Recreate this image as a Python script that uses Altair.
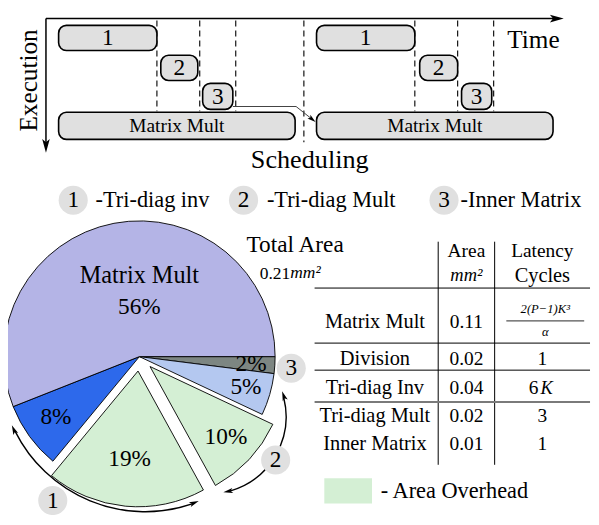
import math
import altair as alt
import pandas as pd

# ---------------- chart values ----------------
# schedule: start / end of each task on the time axis, two iterations
sched_tasks = ["1", "2", "3", "Matrix Mult"]
sched_iter1_start = [52, 157, 200, 52]
sched_iter1_end = [153, 195, 231, 295]
sched_iter2_start = [317, 423, 466, 317]
sched_iter2_end = [418, 462, 497, 560]
phase_marks = [153, 197, 234, 418, 462, 499]
iteration_marks = [304]

legend_ids = ["1", "2", "3"]
legend_names = ["-Tri-diag inv", "-Tri-diag Mult", "-Inner Matrix"]

# pie, clockwise starting at 3 o'clock
pie_share = [2, 5, 10, 19, 8, 56]
pie_labels = ["2%", "5%", "10%", "19%", "8%", "56%"]
pie_colors = ["#7d8682", "#b4c8f0", "#d4efd4", "#d4efd4", "#2d69eb", "#b4b4e6"]
pie_overhead = [0, 0, 1, 1, 0, 0]
pie_group_ids = ["1", "2", "3"]

total_area_title = "Total Area"
total_area_value = "0.21"
table_head = ["Area", "Latency"]
table_units = ["mm²", "Cycles"]
table_rows = ["Matrix Mult", "Division", "Tri-diag Inv", "Tri-diag Mult", "Inner Matrix"]
table_area = ["0.11", "0.02", "0.04", "0.02", "0.01"]
table_latency = ["", "1", "6", "3", "1"]
table_latency_var = ["", "", "K", "", ""]
latency_fraction = ["2(P−1)K³", "α"]
overhead_label = "- Area Overhead"

# ---------------- layout ----------------
W, H = 583, 507
UX, UY = 599.0, 525.0
SX, SY = W / UX, H / UY
S = (SX + SY) / 2
FONT = "Liberation Serif"

xs = alt.Scale(domain=[0, UX], nice=False, zero=False)
ys = alt.Scale(domain=[0, UY], nice=False, zero=False, reverse=True)


def X(f):
    return alt.X(f + ":Q", scale=xs, axis=None)


def Y(f):
    return alt.Y(f + ":Q", scale=ys, axis=None)


def text_layer(rows, size, align="center", italic=False, angle=None, color="black"):
    df = pd.DataFrame(rows, columns=["x", "y", "t"])
    kw = dict(font=FONT, fontSize=round(size * S, 2), align=align,
              baseline="middle", color=color)
    if italic:
        kw["fontStyle"] = "italic"
    if angle is not None:
        kw["angle"] = angle
    return alt.Chart(df).mark_text(**kw).encode(x=X("x"), y=Y("y"), text="t:N")


def rule_layer(rows, color="black", width=1.0, dash=None):
    df = pd.DataFrame(rows, columns=["x", "y", "x2", "y2"])
    kw = dict(color=color, strokeWidth=width)
    if dash:
        kw["strokeDash"] = dash
    return alt.Chart(df).mark_rule(**kw).encode(
        x=X("x"), y=Y("y"), x2=alt.X2("x2"), y2=alt.Y2("y2"))


HEAD = "M0,0 L0.6,2.2 L0,1.7 L-0.6,2.2 Z"


def head_layer(rows, k):
    df = pd.DataFrame(rows, columns=["x", "y", "a"])
    df["a"] = df["a"] % 360
    return alt.Chart(df).mark_point(
        shape=HEAD, filled=True, color="black", opacity=1,
        size=(2 * k * S) ** 2, strokeWidth=0
    ).encode(x=X("x"), y=Y("y"), angle=alt.Angle("a:Q", scale=None))


def badge_layer(centers, labels, r=15, size=24):
    df = pd.DataFrame({"x": [c[0] for c in centers], "y": [c[1] for c in centers], "t": labels})
    circ = alt.Chart(df).mark_point(
        shape="circle", filled=True, color="#e0e0e0", opacity=1,
        size=(2 * r * S) ** 2, strokeWidth=0
    ).encode(x=X("x"), y=Y("y"))
    return [circ, text_layer(list(zip(df.x, df.y, df.t)), size)]


layers = []

# ---------------- scheduling diagram ----------------
LANES = [(18, 44), (49, 75), (78, 105), (108, 136)]
AX_X, AX_Y = 39, 11
layers.append(rule_layer([(AX_X, AX_Y, 560, AX_Y), (AX_X, AX_Y, AX_X, 140)], width=1.5))
layers.append(head_layer([(571, AX_Y, 90), (AX_X, 150, 180)], 6.5))

dash_rows = [(x, 13, x, 107) for x in phase_marks] + [(x, 13, x, 139) for x in iteration_marks]
layers.append(rule_layer(dash_rows, width=1.1, dash=[6, 4]))

box_rows = []
for starts, ends in [(sched_iter1_start, sched_iter1_end), (sched_iter2_start, sched_iter2_end)]:
    for i, name in enumerate(sched_tasks):
        y0, y1 = LANES[i]
        box_rows.append(dict(x0=starts[i], x1=ends[i], y0=y0, y1=y1, t=name,
                             cx=(starts[i] + ends[i]) / 2, cy=(y0 + y1) / 2))
boxes = pd.DataFrame(box_rows)
layers.append(alt.Chart(boxes).mark_rect(
    cornerRadius=8 * S, fill="#e0e0e0", stroke="black", strokeWidth=1.6
).encode(x=X("x0"), x2=alt.X2("x1"), y=Y("y0"), y2=alt.Y2("y1")))
digits = boxes[boxes.t != "Matrix Mult"]
mm = boxes[boxes.t == "Matrix Mult"]
layers.append(text_layer(list(zip(digits.cx, digits.cy + 0.5, digits.t)), 24))
layers.append(text_layer(list(zip(mm.cx, mm.cy, mm.t)), 20))

# hand-off arrow from task 3 to the next Matrix Mult
path_pts = [(sched_iter1_end[2], 102), (296, 102), (313, 115.6)]
tip = (316, 118)
dfp = pd.DataFrame({"x": [p[0] for p in path_pts], "y": [p[1] for p in path_pts],
                    "o": list(range(len(path_pts)))})
layers.append(alt.Chart(dfp).mark_line(color="#444444", strokeWidth=1).encode(
    x=X("x"), y=Y("y"), order=alt.Order("o:Q")))
ang = math.degrees(math.atan2(tip[0] - 296, -(tip[1] - 102)))
layers.append(head_layer([(tip[0], tip[1], ang)], 4.0))

layers.append(text_layer([(22, 75, "Execution")], 26, angle=270))
layers.append(text_layer([(513, 33, "Time")], 26, align="left"))
layers.append(text_layer([(310, 157, "Scheduling")], 27))

# ---------------- legend row ----------------
leg_cx = [67, 242, 448]
leg_tx = [90, 266, 465]
LEG_Y = 199
layers += badge_layer([(x, LEG_Y) for x in leg_cx], legend_ids, r=15, size=24)
layers.append(text_layer([(x, LEG_Y, t) for x, t in zip(leg_tx, legend_names)], 23, align="left"))

# ---------------- pie ----------------
PC = (135, 361)
PR = 140
EXPLODE = 15
label_r = [115, 114, 107, 92, 106, 51]
label_dir = [None, None, None, None, None, 0.0]
rows = []
cum = 0
for share, lab, col, ov, lr, ld in zip(pie_share, pie_labels, pie_colors, pie_overhead,
                                       label_r, label_dir):
    t0 = 90 + cum * 3.6
    t1 = t0 + share * 3.6
    cum += share
    mid = math.radians((t0 + t1) / 2)
    off = EXPLODE if ov else 0
    cx = PC[0] + off * math.sin(mid)
    cy = PC[1] - off * math.cos(mid)
    la = mid if ld is None else math.radians(ld)
    rows.append(dict(t0=math.radians(t0), t1=math.radians(t1), cx=cx, cy=cy, col=col,
                     lab=lab, lx=cx + lr * math.sin(la), ly=cy - lr * math.cos(la)))
pie = pd.DataFrame(rows)
layers.append(alt.Chart(pie).mark_arc(radius=PR * S, stroke="black", strokeWidth=0.9).encode(
    x=X("cx"), y=Y("cy"),
    theta=alt.Theta("t0:Q", scale=None, stack=False), theta2=alt.Theta2("t1"),
    color=alt.Color("col:N", scale=None)))
layers.append(text_layer(list(zip(pie.lx, pie.ly, pie.lab)), 24))
layers.append(text_layer([(PC[0], PC[1] - 84, "Matrix Mult")], 25))

# curved group arrows around the pie: (cx, cy, r, theta_start, theta_end)
ARCS = [(141, 371, 150, 158.5, 246.0), (206, 423, 80, 71.0, 169.0)]
heads = []
for cx, cy, r, ts, te in ARCS:
    trim = math.degrees(7.0 / r)
    dfa = pd.DataFrame({"cx": [cx], "cy": [cy],
                        "t0": [math.radians(ts + trim)], "t1": [math.radians(te - trim)]})
    layers.append(alt.Chart(dfa).mark_arc(
        radius=r * S, radius2=r * S, fillOpacity=0, stroke="black", strokeWidth=1.4
    ).encode(x=X("cx"), y=Y("cy"),
             theta=alt.Theta("t0:Q", scale=None, stack=False), theta2=alt.Theta2("t1")))
    for th, a in [(ts, ts - 90), (te, te + 90)]:
        rad = math.radians(th)
        heads.append((cx + r * math.sin(rad), cy - r * math.cos(rad), a))
layers.append(head_layer(heads, 4.5))
layers += badge_layer([(46, 510), (275, 468), (291, 373)], pie_group_ids, r=15, size=24)

# ---------------- table ----------------
layers.append(text_layer([(295, 245, total_area_title)], 24))
layers.append(text_layer([(290, 275, total_area_value)], 18, align="right"))
layers.append(text_layer([(290, 274, "mm²")], 18, align="left", italic=True))

COL_X = [377, 471, 549]
ROW_Y = [325, 363, 393, 422, 451]
layers.append(text_layer([(COL_X[1], 252, table_head[0]), (COL_X[2], 252, table_head[1])], 20))
layers.append(text_layer([(COL_X[1], 276, table_units[0])], 19, italic=True))
layers.append(text_layer([(COL_X[2], 277, table_units[1])], 21))
layers.append(text_layer([(COL_X[0], y, t) for y, t in zip(ROW_Y, table_rows)], 21))
layers.append(text_layer([(COL_X[1], y, t) for y, t in zip(ROW_Y, table_area)], 20))
lat_rows = []
var_rows = []
for y, t, v in zip(ROW_Y, table_latency, table_latency_var):
    if not t:
        continue
    if v:
        lat_rows.append((COL_X[2] - 9, y, t))
        var_rows.append((COL_X[2] - 2, y, v))
    else:
        lat_rows.append((COL_X[2], y, t))
layers.append(text_layer(lat_rows, 20))
layers.append(text_layer(var_rows, 19, align="left", italic=True))
layers.append(text_layer([(552, 312, latency_fraction[0])], 13, italic=True))
layers.append(text_layer([(552, 335, latency_fraction[1])], 13, italic=True))
layers.append(rule_layer([(512, 324, 592, 324)], color="#555555", width=1.3))

layers.append(rule_layer([(315, 290, 598, 290), (315, 347, 598, 347), (315, 375, 598, 375),
                          (442, 242, 442, 473), (500, 242, 500, 473)], width=1.0))
layers.append(rule_layer([(315, 408, 598, 408)], color="#7a7a7a", width=2.0))

# overhead legend
dfo = pd.DataFrame({"x0": [325], "x1": [374], "y0": [487], "y1": [513]})
layers.append(alt.Chart(dfo).mark_rect(fill="#d4efd4").encode(
    x=X("x0"), x2=alt.X2("x1"), y=Y("y0"), y2=alt.Y2("y1")))
layers.append(text_layer([(383, 500, overhead_label)], 23, align="left"))

chart = alt.layer(*layers).properties(
    width=W, height=H, padding=0, background="white",
    autosize=alt.AutoSizeParams(type="none")
).configure_view(stroke=None)

chart.save("out.html", embed_options={"renderer": "svg", "actions": False})
